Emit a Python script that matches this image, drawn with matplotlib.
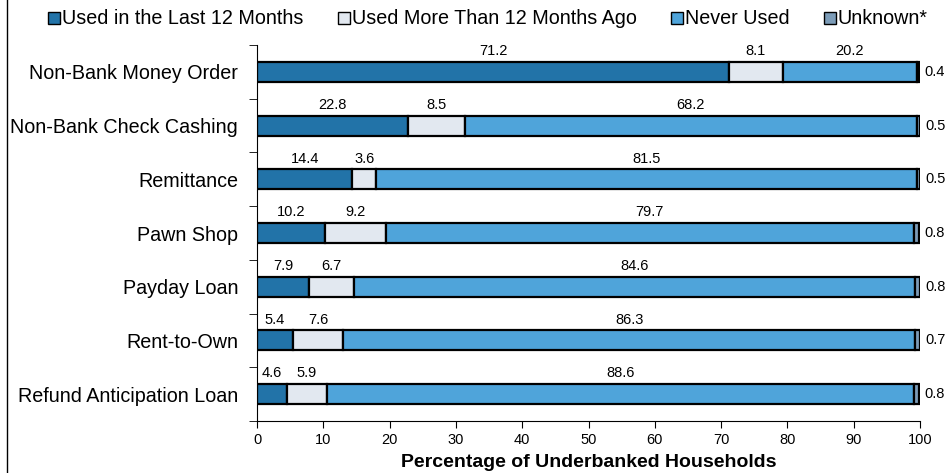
import numpy as np
import matplotlib
matplotlib.use("Agg")
from matplotlib import pyplot as plt
from matplotlib.lines import Line2D

plt.rcParams['font.family'] = ['Liberation Sans', 'DejaVu Sans']

categories = ["Non-Bank Money Order", "Non-Bank Check Cashing", "Remittance",
              "Pawn Shop", "Payday Loan", "Rent-to-Own", "Refund Anticipation Loan"]
last12 = [71.2, 22.8, 14.4, 10.2, 7.9, 5.4, 4.6]
more12 = [8.1, 8.5, 3.6, 9.2, 6.7, 7.6, 5.9]
never = [20.2, 68.2, 81.5, 79.7, 84.6, 86.3, 88.6]
unknown = [0.4, 0.5, 0.5, 0.8, 0.8, 0.7, 0.8]

series_names = ["Used in the Last 12 Months", "Used More Than 12 Months Ago",
                "Never Used", "Unknown*"]
colors = ["#2273a8", "#e2e8f0", "#4fa4da", "#7c9cb8"]

fig = plt.figure(figsize=(9.48, 4.73), dpi=100)
ax = fig.add_axes([257/948, 1-421/473, 663/948, 376/473])

y = np.arange(len(categories))
h = 0.37
left = np.zeros(len(categories))
for i, vals in enumerate([last12, more12, never, unknown]):
    vals = np.array(vals)
    ax.barh(y, vals, left=left, height=h, color=colors[i],
            edgecolor="black", linewidth=1.6)
    for j in range(len(categories)):
        if i < 3:
            ax.text(left[j] + vals[j]/2, y[j] - h/2 - 0.07, f"{vals[j]:.1f}",
                    ha="center", va="bottom", fontsize=10.5)
        else:
            ax.text(left[j] + vals[j] + 0.8, y[j], f"{vals[j]:.1f}",
                    ha="left", va="center", fontsize=10.5)
    left += vals

ax.set_xlim(0, 100)
ax.set_ylim(len(categories) - 0.5, -0.5)
ax.set_xticks(np.arange(0, 101, 10))
ax.tick_params(axis="x", labelsize=10.5, length=5, direction="out")
ax.set_yticks(y)
ax.set_yticklabels(categories, fontsize=14.2)
ax.tick_params(axis="y", length=0, pad=13.5)
ax.set_yticks(np.arange(-0.5, len(categories) + 0.5, 1), minor=True)
ax.tick_params(axis="y", which="minor", length=6, direction="out")
for s in ["top", "right"]:
    ax.spines[s].set_visible(False)
ax.set_xlabel("Percentage of Underbanked Households", fontsize=14,
              fontweight="bold", labelpad=5)

handles = [Line2D([], [], marker="s", linestyle="none", markersize=8.5,
                  markerfacecolor=c, markeredgecolor="black", markeredgewidth=1)
           for c in colors]
fig.legend(handles, series_names, loc="center left",
           bbox_to_anchor=(48/948, 1 - 19/473), ncol=4, frameon=False,
           fontsize=14.2, handletextpad=0.1, columnspacing=1.75,
           handlelength=0.6, borderpad=0, borderaxespad=0)

# thin frame line on the left edge
fig.add_artist(Line2D([7/948, 7/948], [0, 1], color="black", linewidth=1,
                      transform=fig.transFigure))

fig.savefig("out.png", dpi=100)
